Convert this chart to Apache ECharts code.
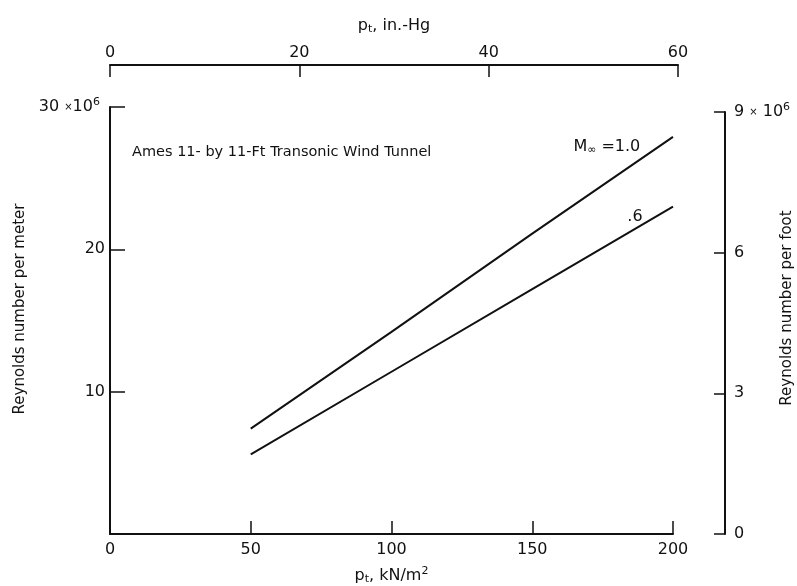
<!DOCTYPE html>
<html>
<head>
<meta charset="utf-8">
<script src="https://cdn.jsdelivr.net/npm/echarts@6/dist/echarts.min.js"></script>
<style>
    html, body { margin: 0; padding: 0; background: #fff; }
    #chart { width: 797px; height: 586px; }
</style>
</head>
<body>
<div id="chart"></div>
<script>
// total pressure, kN/m^2
var pressureKN = [50, 100, 150, 200];
// Reynolds number per meter (x 10^6)
var reMach10 = [7.4, 14.2, 21.1, 27.9];
var reMach06 = [5.6, 11.4, 17.2, 23.0];

var kNTicks = [0, 50, 100, 150, 200];
var inHgTicks = [0, 20, 40, 60];
var perMeterTicks = [0, 10, 20, 30];
var perFootTicks = [0, 3, 6, 9];

var ink = '#111';
var font = "'DejaVu Sans', sans-serif";

function pairs(xs, ys) {
    return xs.map(function (x, i) { return [x, ys[i]]; });
}

var richText = {
    x: { fontSize: 10, color: ink, fontFamily: font },
    sup: { fontSize: 11, color: ink, fontFamily: font, padding: [0, 0, 9, 0] },
    sub: { fontSize: 11, color: ink, fontFamily: font, padding: [7, 0, 0, 0] },
    a: { fontSize: 16, color: ink, fontFamily: font }
};

function axisBase(extra) {
    var base = {
        type: 'value',
        splitLine: { show: false },
        axisLine: { show: true, onZero: false, lineStyle: { color: ink, width: 2 } },
        axisTick: { show: true, inside: true, lineStyle: { color: ink, width: 1.5 } },
        axisLabel: { color: ink, fontSize: 16, fontFamily: font, rich: richText },
        nameTextStyle: { color: ink, fontSize: 15, fontFamily: font, rich: richText }
    };
    return Object.assign(base, extra);
}

// rotated axis titles for the two y axes
function sideTitle(text, x, y) {
    return {
        type: 'text', x: x, y: y, rotation: Math.PI / 2, silent: true,
        style: {
            text: text, fill: ink, fontSize: 15, fontFamily: font,
            align: 'center', verticalAlign: 'middle'
        }
    };
}

var chart = echarts.init(document.getElementById('chart'));
chart.setOption({
    backgroundColor: '#fff',
    animation: false,
    title: {
        text: 'Ames 11- by 11-Ft Transonic Wind Tunnel',
        left: 132,
        top: 145,
        padding: 0,
        textStyle: { color: ink, fontSize: 14.5, fontWeight: 'normal', fontFamily: font }
    },
    graphic: [
        sideTitle('Reynolds number per meter', 20, 309),
        sideTitle('Reynolds number per foot', 787, 308)
    ],
    grid: [
        { left: 110, right: 124, top: 107, bottom: 52, outerBoundsMode: 'none' },
        { left: 110, right: 119, top: 65, bottom: 52, outerBoundsMode: 'none' },
        { left: 110, right: 124, top: 112, bottom: 52, outerBoundsMode: 'none' }
    ],
    xAxis: [
        axisBase({
            gridIndex: 0, position: 'bottom',
            min: kNTicks[0], max: kNTicks[kNTicks.length - 1], interval: 50,
            axisTick: { show: true, inside: true, length: 13, lineStyle: { color: ink, width: 1.5 } },
            axisLabel: { color: ink, fontSize: 16, fontFamily: font, margin: 8 },
            name: '{a|p}{sub|t}{a|, kN/m}{sup|2}',
            nameLocation: 'middle', nameGap: 32
        }),
        axisBase({
            gridIndex: 1, position: 'top',
            min: inHgTicks[0], max: inHgTicks[inHgTicks.length - 1], interval: 20,
            axisTick: { show: true, inside: true, length: 12, lineStyle: { color: ink, width: 1.5 } },
            axisLabel: { color: ink, fontSize: 16, fontFamily: font, margin: 4 },
            name: '{a|p}{sub|t}{a|, in.-Hg}',
            nameLocation: 'middle', nameGap: 30
        }),
        { gridIndex: 2, type: 'value', show: false, min: 0, max: 200 }
    ],
    yAxis: [
        axisBase({
            gridIndex: 0, position: 'left',
            min: perMeterTicks[0], max: perMeterTicks[perMeterTicks.length - 1], interval: 10,
            axisTick: { show: true, inside: true, length: 15, lineStyle: { color: ink, width: 1.5 } },
            axisLabel: {
                color: ink, fontSize: 16, fontFamily: font, margin: 5, rich: richText,
                formatter: function (v) {
                    if (v === 0) return '';
                    if (v === 30) return '{a|30 }{x|×}{a|10}{sup|6} ';
                    return '{a|' + v + '}';
                }
            }
        }),
        { gridIndex: 1, type: 'value', show: false, min: 0, max: 1 },
        axisBase({
            gridIndex: 2, position: 'right', offset: 52,
            min: perFootTicks[0], max: perFootTicks[perFootTicks.length - 1], interval: 3,
            axisTick: { show: true, inside: true, length: 11, lineStyle: { color: ink, width: 1.5 } },
            axisLabel: {
                color: ink, fontSize: 16, fontFamily: font, margin: 9, rich: richText,
                formatter: function (v) {
                    if (v === 9) return '{a|9 }{x|×}{a| 10}{sup|6}';
                    return '{a|' + v + '}';
                }
            }
        })
    ],
    series: [
        {
            name: 'M=1.0', type: 'line', xAxisIndex: 0, yAxisIndex: 0,
            data: pairs(pressureKN, reMach10),
            symbol: 'none', silent: true,
            lineStyle: { color: ink, width: 2 },
            markPoint: {
                symbol: 'circle', symbolSize: 0, silent: true,
                label: {
                    show: true, position: 'inside', rich: richText,
                    formatter: '{a|M}{sub|∞}{a| =1.0}'
                },
                data: [{ coord: [176.5, 27.2] }]
            }
        },
        {
            name: 'M=0.6', type: 'line', xAxisIndex: 0, yAxisIndex: 0,
            data: pairs(pressureKN, reMach06),
            symbol: 'none', silent: true,
            lineStyle: { color: ink, width: 2 },
            markPoint: {
                symbol: 'circle', symbolSize: 0, silent: true,
                label: {
                    show: true, position: 'inside', rich: richText,
                    formatter: '{a|.6}'
                },
                data: [{ coord: [186.5, 22.3] }]
            }
        }
    ]
});
</script>
</body>
</html>
